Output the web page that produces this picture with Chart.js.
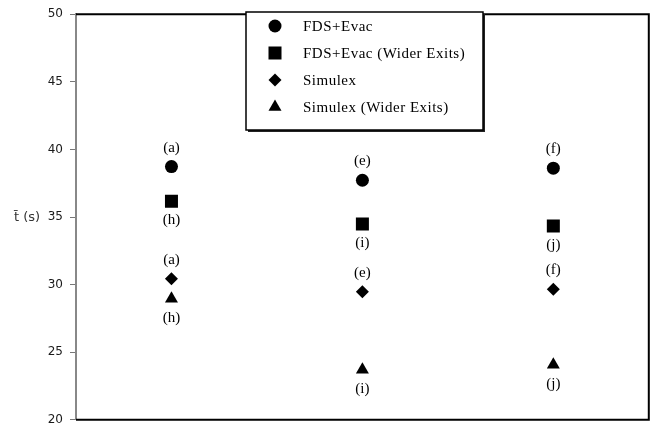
<!DOCTYPE html>
<html>
<head>
<meta charset="utf-8">
<script src="https://cdn.jsdelivr.net/npm/chart.js@4.4.1/dist/chart.umd.min.js"></script>
<style>
  html, body { margin: 0; padding: 0; background: #fff; }
  canvas { display: block; }
</style>
</head>
<body>
<canvas id="chart" width="658" height="434"></canvas>
<script>
// x positions of the three groups
var groups = [1, 2, 3];

// mean evacuation time t (s)
var fdsEvac = [38.73, 37.72, 38.61];
var fdsEvacWide = [36.16, 34.48, 34.33];
var simulex = [30.44, 29.47, 29.65];
var simulexWide = [28.95, 23.70, 24.08];

// letters printed next to each point
var fdsLabels = ['(a)', '(e)', '(f)'];
var fdsWideLabels = ['(h)', '(i)', '(j)'];
var simLabels = ['(a)', '(e)', '(f)'];
var simWideLabels = ['(h)', '(i)', '(j)'];

var yTicks = [20, 25, 30, 35, 40, 45, 50];

function toPoints(values) {
  return values.map(function (v, i) { return { x: groups[i], y: v }; });
}

var serif = '"Liberation Serif", "Times New Roman", serif';

// frame around the plot (left side is the y axis border)
var framePlugin = {
  id: 'frame',
  beforeDatasetsDraw: function (chart) {
    var a = chart.chartArea, ctx = chart.ctx;
    ctx.save();
    ctx.strokeStyle = '#000';
    ctx.lineWidth = 2;
    ctx.beginPath();
    ctx.moveTo(a.left, a.top);
    ctx.lineTo(a.right, a.top);
    ctx.lineTo(a.right, a.bottom);
    ctx.lineTo(a.left, a.bottom);
    ctx.stroke();
    ctx.restore();
  }
};

// letters above / below the markers
var pointLabelPlugin = {
  id: 'pointLabels',
  afterDatasetsDraw: function (chart) {
    var ctx = chart.ctx;
    ctx.save();
    ctx.font = '15px ' + serif;
    ctx.fillStyle = '#000';
    ctx.textAlign = 'center';
    ctx.textBaseline = 'middle';
    chart.data.datasets.forEach(function (ds, i) {
      var meta = chart.getDatasetMeta(i);
      meta.data.forEach(function (pt, j) {
        ctx.fillText(ds.pointLabels[j], pt.x, pt.y + ds.labelOffset);
      });
    });
    ctx.restore();
  }
};

// boxed legend at the top of the plot
var legendBoxPlugin = {
  id: 'legendBox',
  afterDraw: function (chart) {
    var ctx = chart.ctx;
    var box = { x: 246, y: 12, w: 237, h: 118 };
    ctx.save();
    ctx.fillStyle = '#222';
    ctx.fillRect(box.x + 2, box.y + 2, box.w, box.h);
    ctx.fillStyle = '#fff';
    ctx.fillRect(box.x, box.y, box.w, box.h);
    ctx.strokeStyle = '#000';
    ctx.lineWidth = 1.5;
    ctx.strokeRect(box.x, box.y, box.w, box.h);

    ctx.font = '15px ' + serif;
    ctx.letterSpacing = '0.5px';
    ctx.textAlign = 'left';
    ctx.textBaseline = 'middle';
    chart.data.datasets.forEach(function (ds, i) {
      var y = 26 + i * 27;
      ctx.fillStyle = '#000';
      Chart.helpers.drawPoint(ctx, {
        pointStyle: ds.pointStyle,
        radius: ds.pointRadius,
        rotation: 0,
        borderWidth: 0
      }, 275, y);
      ctx.fillStyle = '#000';
      ctx.fillText(ds.label, 303, y + 1);
    });
    ctx.restore();
  }
};

function series(label, values, style, radius, labels, offset) {
  return {
    label: label,
    data: toPoints(values),
    pointStyle: style,
    pointRadius: radius,
    pointHoverRadius: radius,
    backgroundColor: '#000',
    borderColor: '#000',
    borderWidth: 0,
    showLine: false,
    pointLabels: labels,
    labelOffset: offset
  };
}

new Chart(document.getElementById('chart').getContext('2d'), {
  type: 'scatter',
  data: {
    datasets: [
      series('FDS+Evac', fdsEvac, 'circle', 6.5, fdsLabels, -19),
      series('FDS+Evac (Wider Exits)', fdsEvacWide, 'rect', 9.2, fdsWideLabels, 19),
      series('Simulex', simulex, 'rectRot', 6.5, simLabels, -19),
      series('Simulex (Wider Exits)', simulexWide, 'triangle', 7.5, simWideLabels, 19)
    ]
  },
  options: {
    responsive: false,
    animation: false,
    devicePixelRatio: 1,
    layout: { padding: { top: 12, right: 2, bottom: 6, left: 0 } },
    plugins: {
      legend: { display: false },
      tooltip: { enabled: false }
    },
    scales: {
      x: {
        type: 'linear',
        min: 0.5,
        max: 3.5,
        display: false
      },
      y: {
        type: 'linear',
        min: 20,
        max: 50,
        afterFit: function (scale) { scale.width = 76; },
        afterBuildTicks: function (scale) {
          scale.ticks = yTicks.map(function (v) { return { value: v }; });
        },
        grid: {
          drawOnChartArea: false,
          drawTicks: true,
          tickLength: 6,
          color: '#777',
          lineWidth: 1
        },
        border: { display: true, color: '#888', width: 2 },
        ticks: {
          padding: 7,
          color: '#1a1a1a',
          font: { family: '"DejaVu Sans", sans-serif', size: 12 }
        },
        title: { display: false }
      }
    }
  },
  plugins: [framePlugin, pointLabelPlugin, legendBoxPlugin, {
    id: 'yTitle',
    afterDraw: function (chart) {
      var ctx = chart.ctx;
      var y = chart.scales.y.getPixelForValue(35);
      ctx.save();
      ctx.font = '13px "DejaVu Sans", sans-serif';
      ctx.fillStyle = '#333';
      ctx.textAlign = 'center';
      ctx.textBaseline = 'middle';
      ctx.fillText('t\u0304 (s)', 27, y + 1);
      ctx.restore();
    }
  }]
});
</script>
</body>
</html>
